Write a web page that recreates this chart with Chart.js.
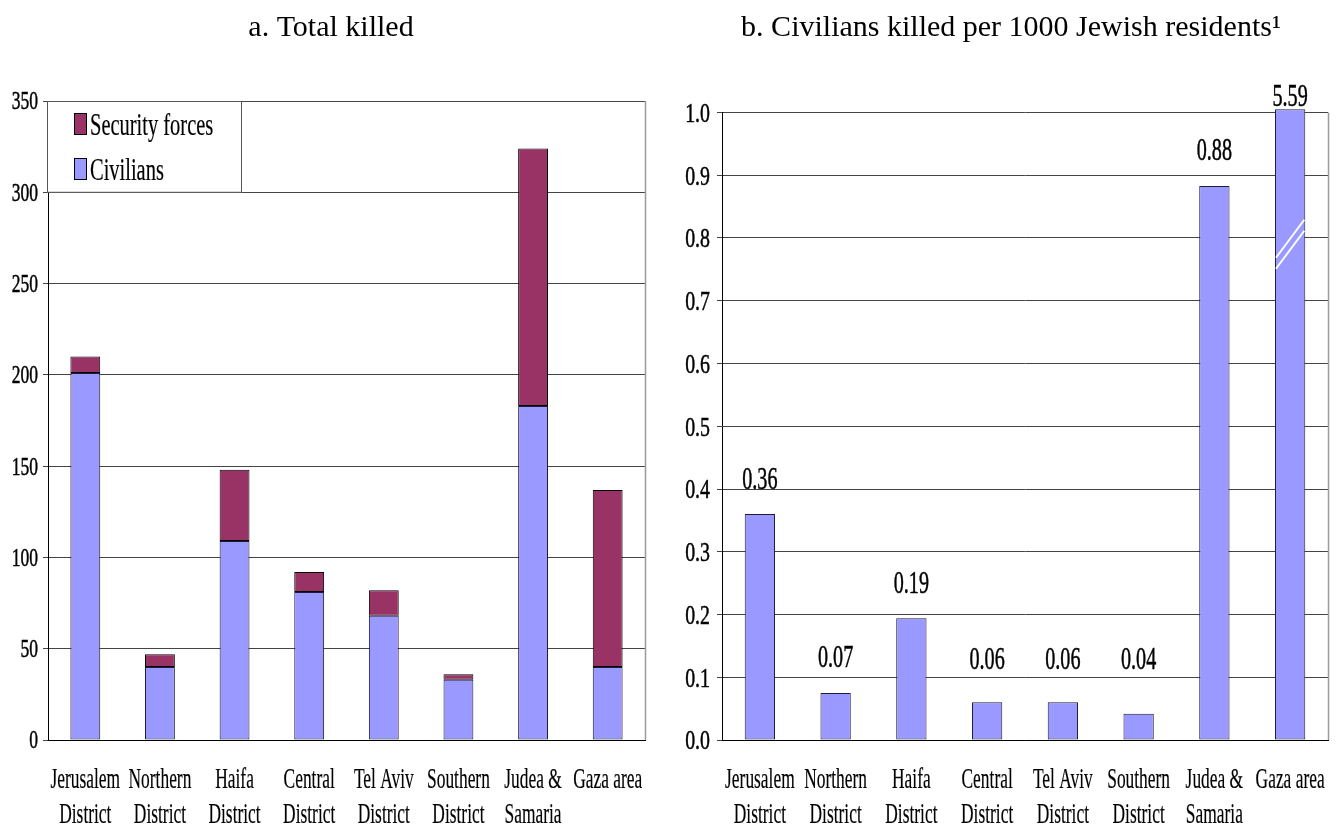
<!DOCTYPE html>
<html><head><meta charset="utf-8">
<script src="https://cdn.jsdelivr.net/npm/chart.js@4"></script>
<style>
html,body{margin:0;padding:0;background:#fff;width:1338px;height:829px;overflow:hidden}
#ca{position:absolute;left:0;top:0}
#cb{position:absolute;left:684px;top:0}
</style></head><body>
<canvas id="ca" width="662" height="829"></canvas>
<canvas id="cb" width="654" height="829"></canvas>
<script>
// ---------- data ----------
const categories = [["Jerusalem","District"],["Northern","District"],["Haifa","District"],["Central","District"],["Tel Aviv","District"],["Southern","District"],["Judea &","Samaria"],["Gaza area"]];
const civiliansKilled = [201, 40, 109, 81, 68, 33, 183, 40];
const securityKilled  = [9, 7, 39, 11, 14, 3, 141, 97];
// bar heights as drawn (the Gaza bar is broken at the top of the axis)
const ratePlotted = [0.36, 0.075, 0.194, 0.06, 0.06, 0.042, 0.883, 1.005];
const rateLabels  = ["0.36","0.07","0.19","0.06","0.06","0.04","0.88","5.59"];
const titleA = "a. Total killed";
const titleB = "b. Civilians killed per 1000 Jewish residents\u00B9";
const seriesNames = ["Civilians", "Security forces"];

// ---------- helpers ----------
const SERIF = "'Liberation Serif','Times New Roman',serif";
Chart.defaults.font.family = SERIF;
function cText(ctx, txt, x, y, size, sx, align, stroke) {
  ctx.save();
  ctx.font = size + "px " + SERIF;
  ctx.fillStyle = "#000";
  ctx.textBaseline = "alphabetic";
  ctx.textAlign = align;
  ctx.translate(x, y);
  ctx.scale(sx, 1);
  ctx.fillText(txt, 0, 0);
  if (stroke) {
    ctx.strokeStyle = "#000";
    ctx.lineWidth = stroke;
    ctx.strokeText(txt, 0, 0);
  }
  ctx.restore();
}

const axisText = {
  id: "axisText",
  afterDraw(chart, args, o) {
    const ctx = chart.ctx, xs = chart.scales.x, ys = chart.scales.y, a = chart.chartArea;
    ys.ticks.forEach((t, i) => {
      const py = ys.getPixelForTick(i);
      cText(ctx, o.fmt(t.value), a.left - o.gap, py + 0.338 * o.ySize, o.ySize, o.ySx, "right", 0.5);
    });
    chart.data.labels.forEach((lab, i) => {
      const px = xs.getPixelForValue(i);
      const lines = Array.isArray(lab) ? lab : [lab];
      lines.forEach((ln, k) => cText(ctx, ln, px, a.bottom + 48 + k * 35, 30, 0.58, "center", 0.2));
    });
  }
};

const frame = {
  id: "frame",
  afterDatasetsDraw(chart) {
    const ctx = chart.ctx, a = chart.chartArea;
    ctx.save();
    ctx.strokeStyle = "#9a9a9a";
    ctx.lineWidth = 1.5;
    ctx.beginPath();
    ctx.moveTo(a.right + 0.5, a.top);
    ctx.lineTo(a.right + 0.5, a.bottom);
    ctx.stroke();
    ctx.restore();
  }
};

const boxLegend = {
  id: "boxLegend",
  afterDatasetsDraw(chart) {
    const ctx = chart.ctx, a = chart.chartArea, ys = chart.scales.y;
    const bottom = ys.getPixelForValue(300);
    ctx.save();
    ctx.fillStyle = "#fff";
    ctx.fillRect(a.left - 1, a.top, 195, bottom - a.top);
    ctx.strokeStyle = "#555";
    ctx.lineWidth = 1;
    ctx.strokeRect(a.left - 0.5, a.top + 0.5, 194, bottom - a.top - 0.5);
    const ds = chart.data.datasets.slice().reverse();
    ds.forEach((d, k) => {
      const base = a.top + 34 + k * 45;
      ctx.fillStyle = d.backgroundColor;
      ctx.fillRect(a.left + 26, base - 22, 13, 22);
      ctx.strokeStyle = "#000";
      ctx.strokeRect(a.left + 26.5, base - 21.5, 12, 21);
      cText(ctx, d.label, a.left + 42, base, 31, 0.66, "left", 0.2);
    });
    ctx.restore();
  }
};

const rateText = {
  id: "rateText",
  afterDatasetsDraw(chart) {
    const ctx = chart.ctx, a = chart.chartArea, ys = chart.scales.y;
    const meta = chart.getDatasetMeta(0);
    const floorY = ys.getPixelForValue(0.13);
    meta.data.forEach((bar, i) => {
      const over = bar.y < a.top;
      if (over) {
        // break marks on the truncated bar
        const c = ys.getPixelForValue(0.79);
        const l = bar.x - bar.width / 2, r = bar.x + bar.width / 2;
        ctx.save();
        ctx.strokeStyle = "#fff";
        ctx.lineWidth = 2;
        [-5.5, 5.5].forEach(off => {
          ctx.beginPath();
          ctx.moveTo(l + 1, c + off + 19);
          ctx.lineTo(r - 1, c + off - 19);
          ctx.stroke();
        });
        ctx.restore();
      }
      const cy = over ? bar.y - 14 : Math.min(bar.y - 36, floorY);
      cText(ctx, rateLabels[i], bar.x, cy + 10.5, 31, 0.65, "center", 0.5);
    });
  }
};

function padAxis(w) {
  return { type: "linear", position: "right", display: true,
    grid: { display: false, drawTicks: false }, border: { display: false },
    ticks: { display: false }, afterFit(s) { s.width = w; } };
}
function titleOpt(text, bottomPad) {
  return { display: true, text: text, color: "#000",
    font: { family: SERIF, size: 30, weight: "normal", lineHeight: 1.2 },
    padding: { top: 10, bottom: bottomPad } };
}

// ---------- chart a ----------
new Chart(document.getElementById("ca"), {
  type: "bar",
  data: {
    labels: categories,
    datasets: [
      { label: seriesNames[0], data: civiliansKilled, backgroundColor: "#9999FF",
        borderColor: "#1c1c3a", borderWidth: 1, borderSkipped: false,
        barPercentage: 0.4, categoryPercentage: 1 },
      { label: seriesNames[1], data: securityKilled, backgroundColor: "#993366",
        borderColor: "#000", borderWidth: 1, borderSkipped: false,
        barPercentage: 0.4, categoryPercentage: 1 }
    ]
  },
  options: {
    responsive: false, animation: false, events: [],
    layout: { padding: 0 },
    plugins: {
      legend: { display: false }, tooltip: { enabled: false },
      title: titleOpt(titleA, 55),
      axisText: { fmt: v => String(v), gap: 10, ySize: 25, ySx: 0.7 }
    },
    scales: {
      x: { stacked: true, grid: { display: false }, border: { display: true, color: "#000", width: 1 },
        ticks: { display: false }, afterFit(s) { s.height = 89; } },
      y: { stacked: true, min: 0, max: 350, ticks: { display: false, stepSize: 50 },
        grid: { color: "#444", lineWidth: 1, tickLength: 5, tickColor: "#444" },
        border: { display: true, color: "#000", width: 1 },
        afterFit(s) { s.width = 48; } },
      pad: padAxis(17)
    }
  },
  plugins: [axisText, frame, boxLegend]
});

// ---------- chart b ----------
new Chart(document.getElementById("cb"), {
  type: "bar",
  data: {
    labels: categories,
    datasets: [
      { label: "Civilians killed per 1000 Jewish residents", data: ratePlotted,
        backgroundColor: "#9999FF", borderColor: "#1c1c3a", borderWidth: 1, borderSkipped: false,
        barPercentage: 0.4, categoryPercentage: 1, clip: false }
    ]
  },
  options: {
    responsive: false, animation: false, events: [],
    layout: { padding: 0 },
    plugins: {
      legend: { display: false }, tooltip: { enabled: false },
      title: titleOpt(titleB, 66.5),
      axisText: { fmt: v => v.toFixed(1), gap: 12, ySize: 28, ySx: 0.71 }
    },
    scales: {
      x: { grid: { display: false }, border: { display: true, color: "#000", width: 1 },
        ticks: { display: false }, afterFit(s) { s.height = 89; } },
      y: { min: 0, max: 1, ticks: { display: false, stepSize: 0.1 },
        grid: { color: "#444", lineWidth: 1, tickLength: 5, tickColor: "#444" },
        border: { display: true, color: "#000", width: 1 },
        afterFit(s) { s.width = 38; } },
      pad: padAxis(10)
    }
  },
  plugins: [axisText, frame, rateText]
});
</script>
</body></html>
